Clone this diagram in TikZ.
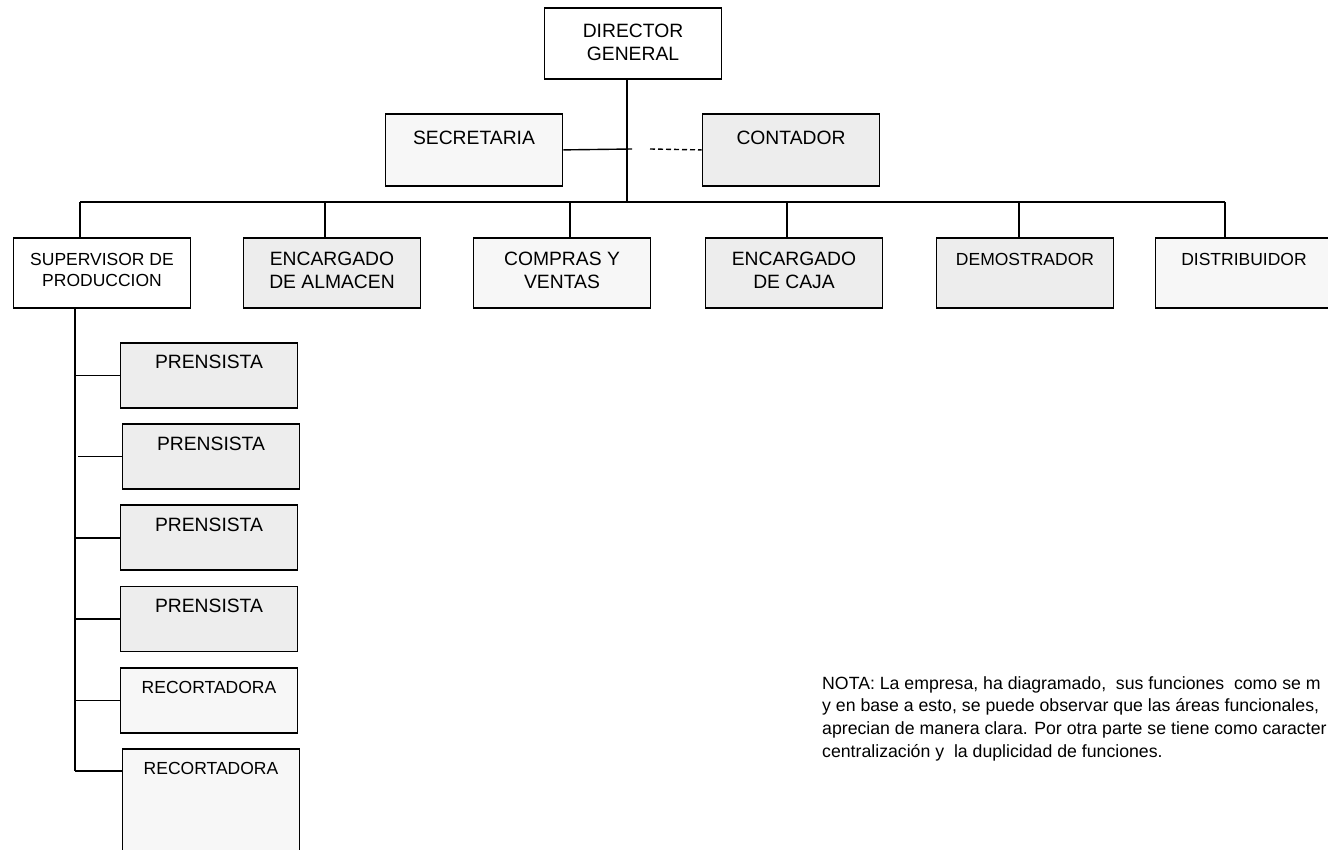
\documentclass[tikz,border=0pt]{standalone}
\usepackage{fontspec}
\setmainfont{Liberation Sans}
\usetikzlibrary{calc,positioning}
\newcommand{\dos}[2]{\begin{tabular}[t]{@{}c@{}}#1\\#2\end{tabular}}

\begin{document}
\begin{tikzpicture}[x=1pt,y=-1pt,
	caja/.style={draw,line width=1.8pt,anchor=north,inner sep=0pt,minimum width=177pt,
		text height=28pt,text depth=42pt,font=\fontsize{19.3}{23}\selectfont},
	chico/.style={font=\fontsize{17.5}{20.5}\selectfont},
	gris/.style={fill=black!7},
	clara/.style={fill=black!3},
	puesto/.style={caja,gris,text height=26pt,text depth=39pt},
	linea/.style={line width=1.4pt},
	nota/.style={anchor=north west,inner sep=0pt,align=left,font=\fontsize{17.7}{22.7}\selectfont}]
	\useasboundingbox (0,0) rectangle (1328,850);
	\clip (0,0) rectangle (1328,850);

	% direccion
	\node[caja,text height=30pt,text depth=41pt] (dir) at (633,7) {\dos{DIRECTOR}{GENERAL}};
	\node[caja,clara,text height=31pt,text depth=41pt] (sec) at (474,113) {SECRETARIA};
	\node[caja,gris,text height=31pt,text depth=41pt] (con) at (791,113) {CONTADOR};

	% areas
	\node[caja,chico] (sup) at (102,237) {\dos{SUPERVISOR DE}{PRODUCCION}};
	\node[caja,gris] (alm) at (332,237) {\dos{ENCARGADO}{DE ALMACEN}};
	\node[caja,clara] (com) at (562,237) {\dos{COMPRAS Y}{VENTAS}};
	\node[caja,gris] (cja) at (794,237) {\dos{ENCARGADO}{DE CAJA}};
	\node[caja,gris,chico] (dem) at (1025,237) {DEMOSTRADOR};
	\node[caja,clara,chico] (dis) at (1244,237) {DISTRIBUIDOR};

	% produccion
	\node[puesto] (p1) at (209,342) {PRENSISTA};
	\node[puesto,below=14.4pt of p1,xshift=2pt] (p2) {PRENSISTA};
	\node[puesto,below=14.4pt of p2,xshift=-2pt] (p3) {PRENSISTA};
	\node[puesto,below=14.4pt of p3] (p4) {PRENSISTA};
	\node[puesto,clara,chico,below=14.4pt of p4] (r1) {RECORTADORA};
	\node[puesto,clara,chico,below=14.4pt of r1,xshift=2pt,text depth=95pt] (r2) {RECORTADORA};

	% lineas
	\coordinate (t) at (627,202);
	\draw[linea] (dir.south -| t) -- (t);
	\coordinate (s) at (632,149);
	\draw[linea] (sec.east) -- (s);
	\coordinate (c) at (650,149);
	\draw[linea,dash pattern=on 5pt off 3pt] (c) -- (con.west);
	\foreach \x [count=\i] in {80,325,570,787,1019,1225}
		\coordinate (b\i) at (\x,202);
	\draw[linea] (b1) -- (b6);
	\foreach \n [count=\i] in {sup,alm,com,cja,dem,dis}
		\draw[linea] (b\i) -- (b\i |- \n.north);

	\coordinate (v) at (75,771);
	\draw[linea] (sup.south -| v) -- (v);
	\foreach \n in {p1,p3,p4,r1}
		\draw[linea] (v |- \n.west) -- (\n.west);
	\draw[linea] ($(v |- p2.west)+(3,0)$) -- (p2.west);
	\draw[linea] (v) -- (v -| r2.west);

	\node[nota] (nota) at (822,676) {NOTA: La empresa, ha diagramado,\ \ sus funciones\ \ como se m\\
		y en base a esto, se puede observar que las áreas funcionales,\\
		aprecian de manera clara. Por otra parte se tiene como caracter\\
		centralización y\ \ la duplicidad de funciones.};
\end{tikzpicture}
\end{document}
